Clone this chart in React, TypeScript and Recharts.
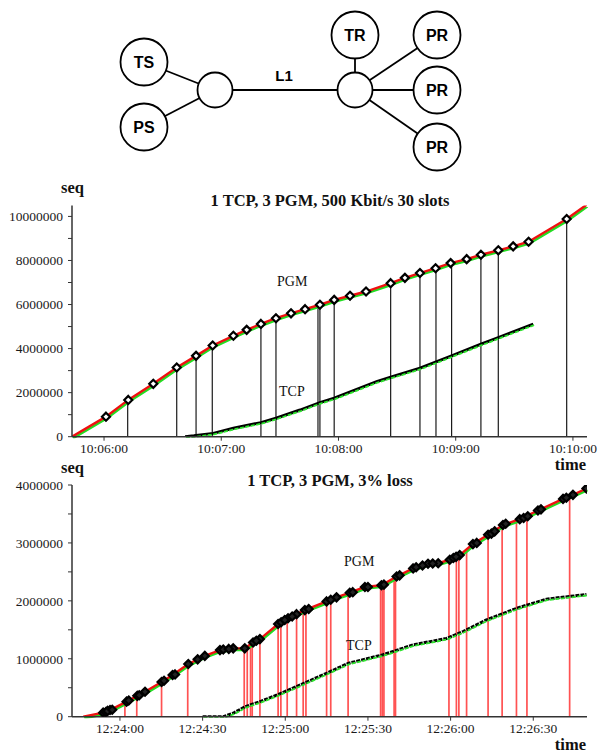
import React from "react";
import { ComposedChart, Line, Scatter, XAxis, YAxis, ReferenceLine } from "recharts";

// time values are seconds since midnight, seq values are bytes

// ---- upper plot: 1 TCP, 3 PGM, 500 Kbit/s 30 slots
const pgmTimeA = [36343.6, 36361, 36372.4, 36385.2, 36397.2, 36407.1, 36415.6, 36426.2, 36433, 36440.3, 36448, 36455.7, 36462.9, 36470.5, 36477.8, 36485.9, 36494.1, 36506.7, 36514, 36521.7, 36529.7, 36537.4, 36545.6, 36552.9, 36561.8, 36569.4, 36577.3, 36596.8, 36607];
const pgmSeqA = [0, 0.91e6, 1.67e6, 2.4e6, 3.14e6, 3.67e6, 4.14e6, 4.58e6, 4.85e6, 5.12e6, 5.38e6, 5.6e6, 5.79e6, 5.99e6, 6.21e6, 6.4e6, 6.59e6, 6.97e6, 7.21e6, 7.43e6, 7.65e6, 7.88e6, 8.06e6, 8.26e6, 8.46e6, 8.64e6, 8.85e6, 9.88e6, 10.53e6];
const tcpTimeA = [36401.5, 36406, 36415.9, 36426.2, 36440.3, 36448, 36460.3, 36470.5, 36477.8, 36499.5, 36506.7, 36521.7, 36537.9, 36552.9, 36561.8, 36579.7];
const tcpSeqA = [0, 0.04e6, 0.15e6, 0.38e6, 0.64e6, 0.84e6, 1.21e6, 1.55e6, 1.75e6, 2.5e6, 2.7e6, 3.11e6, 3.67e6, 4.2e6, 4.5e6, 5.11e6];
const nakTimeA = [36372.1, 36397.2, 36407.1, 36415.4, 36440.3, 36448, 36469.5, 36470.5, 36477.8, 36506.7, 36521.7, 36529.9, 36537.9, 36552.9, 36561.8, 36596.8];
const nakSeqA = [1.6e6, 3.1e6, 3.65e6, 4.1e6, 5.1e6, 5.35e6, 5.95e6, 5.99e6, 6.2e6, 6.95e6, 7.42e6, 7.65e6, 7.87e6, 8.25e6, 8.45e6, 9.85e6];
const xTicksA = [36360, 36420, 36480, 36540, 36600];
const yTicksA = [0, 1e6, 2e6, 3e6, 4e6, 5e6, 6e6, 7e6, 8e6, 9e6, 10e6];

// ---- lower plot: 1 TCP, 3 PGM, 3% loss
const pgmTimeB = [44626.7, 44633.9, 44636.4, 44642.4, 44646.3, 44649.1, 44655.1, 44659.1, 44664.8, 44668.2, 44670.8, 44676.3, 44681.1, 44685.3, 44688.3, 44690.8, 44697.4, 44701, 44704.1, 44707.1, 44715, 44718.6, 44723.4, 44728.9, 44734.9, 44740.4, 44746.4, 44751.8, 44755.5, 44759.7, 44763.3, 44768.1, 44773.6, 44779, 44785.1, 44791.7, 44800.8, 44804.4, 44809.3];
const pgmSeqB = [0, 0.07e6, 0.115e6, 0.26e6, 0.36e6, 0.43e6, 0.6e6, 0.72e6, 0.91e6, 0.99e6, 1.05e6, 1.15e6, 1.18e6, 1.18e6, 1.28e6, 1.34e6, 1.6e6, 1.7e6, 1.77e6, 1.84e6, 1.99e6, 2.06e6, 2.14e6, 2.24e6, 2.27e6, 2.42e6, 2.56e6, 2.64e6, 2.65e6, 2.71e6, 2.79e6, 2.98e6, 3.14e6, 3.31e6, 3.41e6, 3.56e6, 3.76e6, 3.83e6, 3.94e6];
const dmdTimeB = [44634.9, 44635.5, 44637.2, 44643.2, 44647, 44656, 44660, 44677.5, 44679.5, 44689.5, 44698.5, 44699.8, 44702.5, 44708.5, 44716.5, 44724.5, 44730, 44735.8, 44741.5, 44747.5, 44749.8, 44753.5, 44761, 44762, 44769.5, 44774.8, 44776, 44780, 44786.5, 44788, 44792.8, 44802];
const dmdSeqB = [0.08e6, 0.1e6, 0.12e6, 0.28e6, 0.37e6, 0.62e6, 0.73e6, 1.16e6, 1.17e6, 1.31e6, 1.63e6, 1.67e6, 1.73e6, 1.86e6, 2.02e6, 2.15e6, 2.24e6, 2.28e6, 2.44e6, 2.58e6, 2.61e6, 2.645e6, 2.74e6, 2.76e6, 3.0e6, 3.16e6, 3.2e6, 3.33e6, 3.43e6, 3.46e6, 3.58e6, 3.78e6];
const tcpTimeB = [44670, 44677.5, 44681.1, 44685.3, 44690.8, 44696.8, 44704.1, 44715, 44722.8, 44735.5, 44746.4, 44758.5, 44764.5, 44773, 44783.9, 44794.8, 44809.3];
const tcpSeqB = [0, 0, 0.06e6, 0.17e6, 0.26e6, 0.37e6, 0.52e6, 0.75e6, 0.92e6, 1.07e6, 1.24e6, 1.35e6, 1.47e6, 1.67e6, 1.87e6, 2.03e6, 2.11e6];
const nakTimeB = [44641.8, 44646.1, 44655.1, 44664.6, 44685.1, 44686.2, 44687.4, 44688, 44690.8, 44697.4, 44698.4, 44700.7, 44704.1, 44706.5, 44707.5, 44715, 44716.5, 44722.8, 44734.6, 44735.2, 44735.8, 44739.5, 44740, 44759.4, 44762.1, 44763, 44765.8, 44773.6, 44778.7, 44783.9, 44787.7, 44803.2];
const nakSeqB = [0.25e6, 0.36e6, 0.6e6, 0.89e6, 1.17e6, 1.19e6, 1.23e6, 1.25e6, 1.33e6, 1.58e6, 1.62e6, 1.68e6, 1.77e6, 1.81e6, 1.82e6, 1.97e6, 2.0e6, 2.12e6, 2.2e6, 2.22e6, 2.24e6, 2.36e6, 2.38e6, 2.67e6, 2.74e6, 2.76e6, 2.85e6, 3.06e6, 3.23e6, 3.36e6, 3.42e6, 3.8e6];
const xTicksB = [44640, 44670, 44700, 44730, 44760, 44790];
const yTicksB = [0, 0.5e6, 1e6, 1.5e6, 2e6, 2.5e6, 3e6, 3.5e6, 4e6];

const SERIF = "'Liberation Serif', 'DejaVu Serif', serif";
const SANS = "'Liberation Sans', Arial, sans-serif";

const zip = (ts: number[], vs: number[]) => ts.map((t, i) => ({ t, v: vs[i] }));
const pad = (n: number) => String(n).padStart(2, "0");
const hms = (s: number) => {
  const h = Math.floor(s / 3600);
  const m = Math.floor((s % 3600) / 60);
  const sec = Math.round(s % 60);
  return `${h}:${pad(m)}:${pad(sec)}`;
};

const Diamond = (props: any) => {
  const { cx, cy, fill } = props;
  if (cx == null || cy == null) return null;
  const r = 4;
  return (
    <path
      d={`M${cx},${cy - r}L${cx + r},${cy}L${cx},${cy + r}L${cx - r},${cy}Z`}
      fill={fill}
      stroke="#000"
      strokeWidth={2.2}
    />
  );
};

const tickStyle = { fontFamily: SERIF, fontSize: 13.5, fill: "#1a1a1a" };

function Plot(props: {
  top: number;
  height: number;
  margin: any;
  xDomain: number[];
  yDomain: number[];
  xTicks: number[];
  yTicks: number[];
  yStep: number;
  pgm: { t: number; v: number }[];
  diamonds: { t: number; v: number }[];
  tcp: { t: number; v: number }[];
  naks: { t: number; v: number }[];
  nakColor: string;
  nakWidth: number;
  dmdFill: string;
  tcpDash?: string;
}) {
  return (
    <div style={{ position: "absolute", left: 0, top: props.top }}>
      <ComposedChart width={598} height={props.height} margin={props.margin}>
        <XAxis
          type="number"
          dataKey="t"
          domain={props.xDomain}
          ticks={props.xTicks}
          interval={0}
          allowDataOverflow
          tickFormatter={hms}
          height={30}
          tickSize={4}
          tickMargin={3}
          tick={tickStyle}
          axisLine={{ stroke: "#333", strokeWidth: 1.5 }}
          tickLine={{ stroke: "#333" }}
        />
        <YAxis
          type="number"
          dataKey="v"
          domain={props.yDomain}
          ticks={props.yTicks}
          interval={0}
          allowDataOverflow
          tickFormatter={(v: number) => (v % props.yStep === 0 ? String(v) : "")}
          width={72}
          tickSize={4}
          tickMargin={5}
          tick={tickStyle}
          axisLine={{ stroke: "#333", strokeWidth: 1.5 }}
          tickLine={{ stroke: "#333" }}
        />
        {props.naks.map((n, i) => (
          <ReferenceLine
            key={i}
            segment={[
              { x: n.t, y: 0 },
              { x: n.t, y: n.v },
            ]}
            stroke={props.nakColor}
            strokeWidth={props.nakWidth}
          />
        ))}
        <Line
          data={props.tcp}
          dataKey="v"
          stroke="#000"
          strokeWidth={3}
          strokeDasharray={props.tcpDash}
          dot={false}
          activeDot={false}
          isAnimationActive={false}
        />
        <Line
          data={props.tcp}
          dataKey="v"
          className="tcp-green"
          stroke="#2ee62e"
          strokeWidth={1.8}
          strokeDasharray="4 1.5"
          dot={false}
          activeDot={false}
          isAnimationActive={false}
        />
        <Line
          data={props.pgm}
          dataKey="v"
          className="pgm-green"
          stroke="#22dd22"
          strokeWidth={2.4}
          dot={false}
          activeDot={false}
          isAnimationActive={false}
        />
        <Line
          data={props.pgm}
          dataKey="v"
          stroke="#ee1111"
          strokeWidth={2.4}
          dot={false}
          activeDot={false}
          isAnimationActive={false}
        />
        <Scatter
          data={props.diamonds}
          dataKey="v"
          shape={(p: any) => <Diamond {...p} fill={props.dmdFill} />}
          isAnimationActive={false}
        />
      </ComposedChart>
    </div>
  );
}

function Network() {
  const nodes = [
    { x: 144, y: 62, r: 23.5, label: "TS" },
    { x: 144, y: 127, r: 23.5, label: "PS" },
    { x: 355, y: 35, r: 23.5, label: "TR" },
    { x: 437, y: 35, r: 23.5, label: "PR" },
    { x: 437, y: 90, r: 23.5, label: "PR" },
    { x: 437, y: 147, r: 23.5, label: "PR" },
  ];
  const hubL = { x: 215, y: 90 };
  const hubR = { x: 355, y: 90 };
  return (
    <svg width={598} height={175} style={{ position: "absolute", left: 0, top: 0 }}>
      <g stroke="#000" strokeWidth={1.8}>
        <line x1={nodes[0].x} y1={nodes[0].y} x2={hubL.x} y2={hubL.y} />
        <line x1={nodes[1].x} y1={nodes[1].y} x2={hubL.x} y2={hubL.y} />
        <line x1={hubL.x} y1={hubL.y} x2={hubR.x} y2={hubR.y} />
        {nodes.slice(2).map((n, i) => (
          <line key={i} x1={n.x} y1={n.y} x2={hubR.x} y2={hubR.y} />
        ))}
      </g>
      <g fill="#fff" stroke="#000" strokeWidth={1.8}>
        <circle cx={hubL.x} cy={hubL.y} r={17.5} />
        <circle cx={hubR.x} cy={hubR.y} r={17.5} />
        {nodes.map((n, i) => (
          <circle key={i} cx={n.x} cy={n.y} r={n.r} />
        ))}
      </g>
      <g fontFamily={SANS} fontWeight="bold" fontSize={16} textAnchor="middle">
        {nodes.map((n, i) => (
          <text key={i} x={n.x} y={n.y + 6}>
            {n.label}
          </text>
        ))}
        <text x={284} y={81} fontSize={15}>
          L1
        </text>
      </g>
    </svg>
  );
}

export default function App() {
  return (
    <div style={{ position: "absolute", left: 0, top: 0, width: 598, height: 753, background: "#fff" }}>
      <style>{`.pgm-green{transform:translate(1px,1.6px)}.tcp-green{transform:translate(0.8px,1px)}`}</style>
      <Network />
      <Plot
        top={175}
        height={300}
        margin={{ top: 30.4, right: 11, bottom: 8.3, left: 0 }}
        xDomain={[36343.6, 36607.2]}
        yDomain={[0, 10500000]}
        xTicks={xTicksA}
        yTicks={yTicksA}
        yStep={2e6}
        pgm={zip(pgmTimeA, pgmSeqA)}
        diamonds={zip(pgmTimeA, pgmSeqA).slice(1, -1)}
        tcp={zip(tcpTimeA, tcpSeqA)}
        naks={zip(nakTimeA, nakSeqA)}
        nakColor="#1a1a1a"
        nakWidth={1.2}
        dmdFill="#fff"
      />
      <Plot
        top={460}
        height={293}
        margin={{ top: 25, right: 11, bottom: 6.3, left: 0 }}
        xDomain={[44622.6, 44809.5]}
        yDomain={[0, 4000000]}
        xTicks={xTicksB}
        yTicks={yTicksB}
        yStep={1e6}
        pgm={zip(pgmTimeB, pgmSeqB)}
        diamonds={zip(pgmTimeB, pgmSeqB).slice(1).concat(zip(dmdTimeB, dmdSeqB))}
        tcp={zip(tcpTimeB, tcpSeqB)}
        naks={zip(nakTimeB, nakSeqB)}
        nakColor="#ff5252"
        nakWidth={1.7}
        dmdFill="#222"
        tcpDash="4 1"
      />
      <svg width={598} height={753} style={{ position: "absolute", left: 0, top: 0, pointerEvents: "none" }}>
        <g fontFamily={SERIF} fontWeight="bold" fontSize={16.5} fill="#111">
          <text x={61} y={193}>seq</text>
          <text x={330} y={206} textAnchor="middle">1 TCP, 3 PGM, 500 Kbit/s 30 slots</text>
          <text x={586} y={470} textAnchor="end">time</text>
          <text x={61} y={473}>seq</text>
          <text x={330} y={486} textAnchor="middle">1 TCP, 3 PGM, 3% loss</text>
          <text x={586} y={750} textAnchor="end">time</text>
        </g>
        <g fontFamily={SERIF} fontSize={14} fill="#111">
          <text x={277} y={286}>PGM</text>
          <text x={279} y={396}>TCP</text>
          <text x={344} y={566}>PGM</text>
          <text x={346} y={650}>TCP</text>
        </g>
      </svg>
    </div>
  );
}
